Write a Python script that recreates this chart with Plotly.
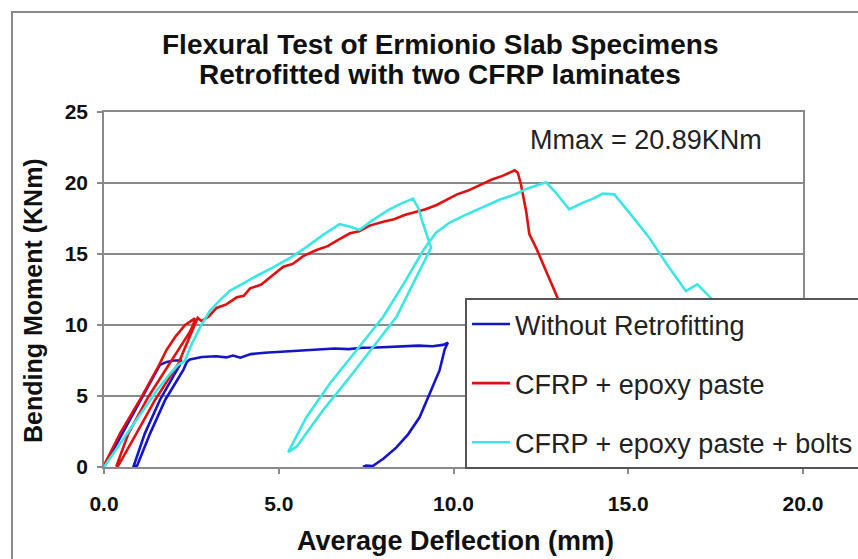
import plotly.graph_objects as go

# ---- data ----
blue_x = [0.0, 0.4, 0.8, 1.2, 1.6, 1.8, 2.0, 2.2, 2.17, 2.03, 1.6, 1.17, 0.89, 0.84,
          0.95, 1.32, 1.75, 2.27, 2.37, 2.46, 2.8, 3.2, 3.5, 3.69, 3.9, 4.2, 4.6, 5.0,
          5.4, 5.8, 6.2, 6.6, 7.0, 7.4, 7.8, 8.2, 8.6, 9.0, 9.4, 9.7, 9.84, 9.75, 9.6,
          9.3, 9.03, 8.7, 8.36, 8.0, 7.69, 7.5, 7.41]
blue_y = [0.0, 1.8, 3.6, 5.4, 7.2, 7.4, 7.5, 7.5, 7.18, 6.6, 4.72, 2.37, 0.26, 0.0,
          0.1, 2.37, 4.72, 6.83, 7.4, 7.58, 7.75, 7.8, 7.72, 7.85, 7.7, 7.95, 8.05, 8.1,
          8.2, 8.25, 8.3, 8.35, 8.3, 8.4, 8.42, 8.45, 8.48, 8.55, 8.5, 8.6, 8.75, 8.3, 6.8,
          5.0, 3.5, 2.3, 1.36, 0.6, 0.07, 0.1, 0.0]

red_x = [0.0, 0.03, 0.46, 1.08, 1.55, 1.79, 2.05, 2.32, 2.6, 2.55, 2.46, 1.94, 1.27,
         0.7, 0.36, 0.38, 0.41, 0.93, 1.46, 2.13, 2.56, 2.68, 2.79, 3.0, 3.22, 3.5,
         3.8, 4.0, 4.18, 4.5, 4.8, 5.13, 5.4, 5.7, 6.08, 6.4, 6.7, 7.04, 7.3, 7.6,
         7.99, 8.3, 8.6, 8.94, 9.2, 9.52, 9.8, 10.1, 10.4, 10.85, 11.1, 11.4, 11.75,
         11.84, 11.93, 12.08, 12.17, 12.36, 12.65, 12.98, 13.3, 13.6]
red_y = [0.0, 0.26, 2.37, 4.95, 7.06, 8.24, 9.2, 10.0, 10.47, 10.0, 9.53, 7.54, 4.95,
         2.37, 0.1, 0.0, 0.1, 2.37, 4.72, 7.3, 9.84, 10.5, 10.28, 10.6, 11.2, 11.45,
         11.95, 12.05, 12.58, 12.85, 13.45, 14.1, 14.3, 14.85, 15.28, 15.55, 16.0, 16.46,
         16.6, 17.0, 17.27, 17.45, 17.75, 17.98, 18.15, 18.45, 18.8, 19.2, 19.45, 19.98,
         20.25, 20.5, 20.89, 20.72, 19.9, 18.0, 16.4, 15.45, 13.8, 11.9, 9.9, 8.0]

cyan_x = [0.0, 0.5, 1.0, 1.5, 1.9, 2.12, 2.31, 2.5, 2.74, 3.03, 3.3, 3.6, 4.0, 4.36,
          4.8, 5.31, 5.8, 6.3, 6.74, 7.0, 7.31, 7.7, 8.17, 8.5, 8.84, 9.0, 9.12, 9.25,
          9.36, 8.37, 7.71, 7.04, 6.27, 5.51, 5.27, 5.8, 6.47, 7.23, 7.99, 8.6, 9.14,
          9.5, 9.88, 10.3, 10.81, 11.3, 11.76, 12.1, 12.46, 12.65, 12.9, 13.31, 13.69,
          14.0, 14.27, 14.6, 15.1, 15.6, 16.1, 16.65, 16.98, 17.36, 17.8, 18.5]
cyan_y = [0.0, 1.8, 3.6, 5.35, 6.6, 7.2, 7.46, 8.6, 9.8, 11.0, 11.7, 12.4, 12.95, 13.45,
          14.0, 14.7, 15.5, 16.4, 17.1, 16.95, 16.7, 17.4, 18.15, 18.55, 18.9, 18.2, 17.2,
          16.3, 15.45, 10.58, 8.47, 6.36, 4.01, 1.43, 1.05, 3.54, 5.9, 8.24, 10.58, 13.0,
          15.28, 16.5, 17.2, 17.7, 18.26, 18.8, 19.2, 19.6, 19.9, 20.05, 19.4, 18.15, 18.6,
          18.9, 19.25, 19.2, 17.7, 16.15, 14.3, 12.4, 12.86, 11.9, 10.8, 9.5]

series_names = ["Without Retrofitting", "CFRP + epoxy paste", "CFRP + epoxy paste + bolts"]
series_colors = ["#1414C8", "#E01010", "#3CE6E6"]

x_ticks = [0, 5, 10, 15, 20]
x_tick_labels = ["0.0", "5.0", "10.0", "15.0", "20.0"]
y_ticks = [0, 5, 10, 15, 20, 25]

title_lines = ["Flexural Test of Ermionio Slab Specimens", "Retrofitted with two CFRP laminates"]
x_title = "Average Deflection (mm)"
y_title = "Bending Moment (KNm)"
note_text = "Mmax = 20.89KNm"
note_pos = (15.5, 23.0)

FONT = "Liberation Sans, Arial, sans-serif"
GRID = "#8a8a8a"

fig = go.Figure()
for xs, ys, name, col in zip([blue_x, red_x, cyan_x], [blue_y, red_y, cyan_y],
                             series_names, series_colors):
    fig.add_trace(go.Scatter(x=xs, y=ys, mode="lines", name=name, legendgroup=name,
                             line=dict(color=col, width=2.6)))

fig.update_layout(
    width=858, height=559,
    margin=dict(l=104, r=55, t=112, b=92, autoexpand=False),
    paper_bgcolor="white", plot_bgcolor="white",
    font=dict(family=FONT, color="#111111"),
    showlegend=True,
    legend=dict(x=0.5165, y=0.476, xanchor="left", yanchor="top",
                bgcolor="white", bordercolor="#555555", borderwidth=2,
                font=dict(family=FONT, size=27, color="#222222"),
                tracegroupgap=21, traceorder="grouped", itemwidth=38),
)
fig.update_xaxes(range=[0, 20], tickvals=x_ticks, ticktext=x_tick_labels,
                 showgrid=False, zeroline=False, showline=True, linecolor=GRID,
                 linewidth=1.5, mirror=True, ticks="outside", ticklen=5,
                 tickcolor=GRID, tickwidth=1.5, ticklabelstandoff=12,
                 tickfont=dict(family=FONT, size=21, color="#111111", weight="bold"))
fig.update_yaxes(range=[0, 25], tickvals=y_ticks, showgrid=True, gridcolor=GRID,
                 gridwidth=1.5, zeroline=False, showline=True, linecolor=GRID,
                 linewidth=1.5, mirror=True, ticks="outside", ticklen=5,
                 tickcolor=GRID, tickwidth=1.5, ticklabelstandoff=5,
                 tickfont=dict(family=FONT, size=21, color="#111111", weight="bold"))

# titles as annotations for precise placement
def px_x(p):
    return (p - 104) / 699

def px_y(p):
    return (467 - p) / 355

fig.add_annotation(text="<b>%s</b>" % title_lines[0], xref="paper", yref="paper",
                   x=px_x(440), y=px_y(44), xanchor="center", yanchor="middle",
                   showarrow=False, font=dict(family=FONT, size=28, color="#111111"))
fig.add_annotation(text="<b>%s</b>" % title_lines[1], xref="paper", yref="paper",
                   x=px_x(440), y=px_y(75), xanchor="center", yanchor="middle",
                   showarrow=False, font=dict(family=FONT, size=28, color="#111111"))
fig.add_annotation(text="<b>%s</b>" % x_title, xref="paper", yref="paper",
                   x=px_x(455), y=px_y(541), xanchor="center", yanchor="middle",
                   showarrow=False, font=dict(family=FONT, size=27, color="#111111"))
fig.add_annotation(text="<b>%s</b>" % y_title, xref="paper", yref="paper",
                   x=px_x(33), y=px_y(301), xanchor="center", yanchor="middle",
                   textangle=-90, showarrow=False,
                   font=dict(family=FONT, size=25, color="#111111"))
fig.add_annotation(text=note_text, x=note_pos[0], y=note_pos[1], showarrow=False,
                   xanchor="center", yanchor="middle",
                   font=dict(family=FONT, size=27, color="#222222"))

# outer chart frame
fig.add_shape(type="rect", xref="paper", yref="paper",
              x0=px_x(12), x1=1.3, y0=-0.6, y1=px_y(12),
              line=dict(color="#8a8a8a", width=2), layer="below")

fig.write_html("out.html")
